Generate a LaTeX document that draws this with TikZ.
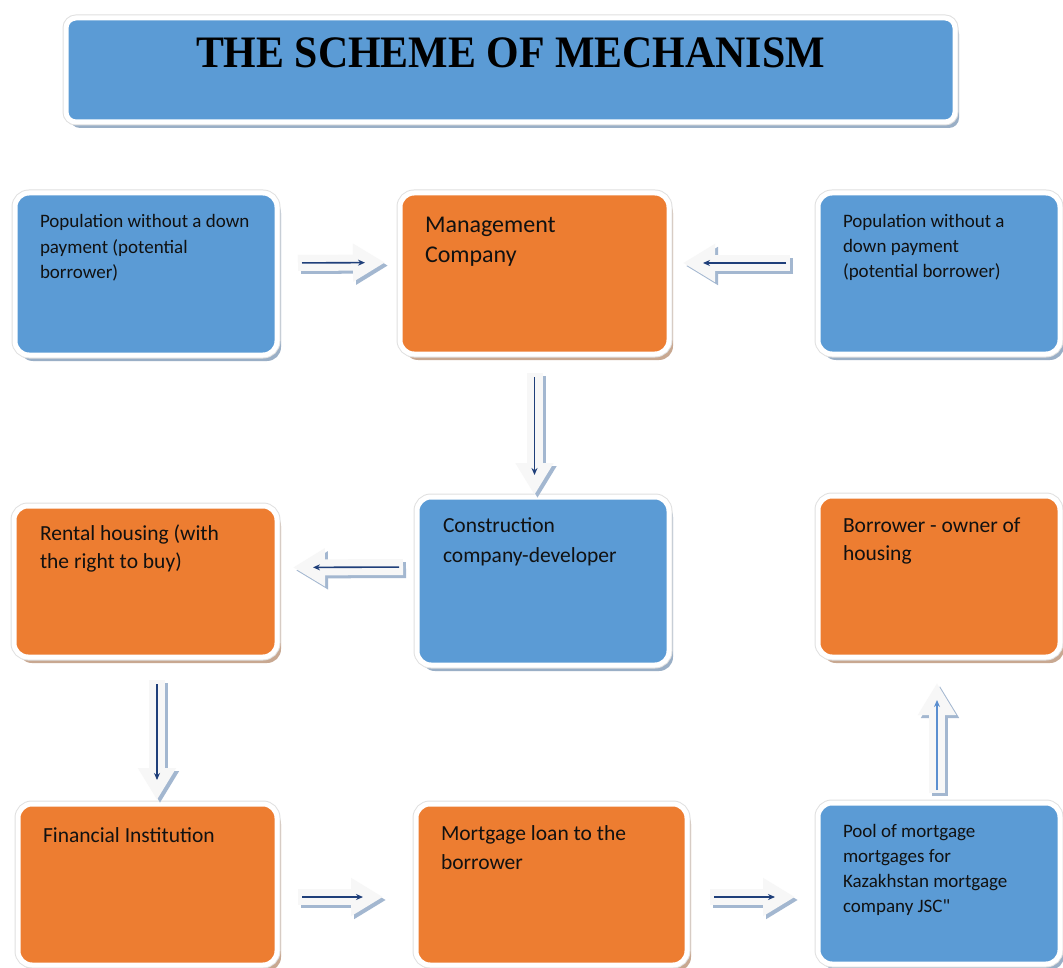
\documentclass[tikz,border=0pt]{standalone}
\usepackage{fontspec}
\usepackage{graphicx}
\setmainfont{Carlito}
\newfontfamily\plaincal{Carlito}
\newfontfamily\titlefont{Liberation Serif}
\usetikzlibrary{arrows.meta,shadows}
\definecolor{cblue}{HTML}{5B9BD5}
\definecolor{corange}{HTML}{ED7D31}
\definecolor{shblue}{HTML}{9AAFC6}
\definecolor{shorange}{HTML}{C8A891}
\definecolor{navy}{HTML}{1F3F7A}
\definecolor{lightnavy}{HTML}{5B8FD0}
\definecolor{arrshcol}{HTML}{A3B7D0}
\definecolor{txtcol}{HTML}{111111}
\newcommand\myarrow[7]{%
  \draw[arrshadow, shorten <=#4, shorten >=#5] #2 -- #3;
  \draw[arrbody, shorten <=#4, shorten >=#5] #2 -- #3;
  \draw[arrline, draw=#1, shorten <=#6, shorten >=#7] #2 -- #3;}
\begin{document}
\begin{tikzpicture}[x=1pt,y=-1pt,
  boxbase/.style={draw=white, line width=5pt, rounded corners=14pt, inner sep=0pt, outer sep=0pt, anchor=north west},
  bluebox/.style={boxbase, fill=cblue,
    drop shadow={shadow xshift=4pt, shadow yshift=-6pt, fill=shblue, opacity=1},
    preaction={draw=black!12, line width=7pt}},
  orangebox/.style={boxbase, fill=corange,
    drop shadow={shadow xshift=4pt, shadow yshift=-6pt, fill=shorange, opacity=1},
    preaction={draw=black!12, line width=7pt}},
  txt/.style={inner sep=0pt, outer sep=0pt, anchor=base west, text=txtcol},
  small/.style={txt, font=\fontsize{19}{25.5}\selectfont},
  mid/.style={txt, font=\fontsize{21.5}{28.5}\selectfont},
  big/.style={txt, font=\fontsize{24}{30}\selectfont},
  arrshadow/.style={draw=arrshcol, line width=16pt, -{Triangle[length=32pt,width=36pt]}, transform canvas={shift={(3pt,-3pt)}}},
  arrbody/.style={draw=gray!6, line width=16pt, -{Triangle[length=32pt,width=36pt]}},
  arrline/.style={line width=1.6pt, -{Stealth[length=7pt,width=6pt]}}
]
\useasboundingbox[fill=white] (0,0) rectangle (1063,968);

% title
\node[boxbase, rounded corners=10pt, fill=cblue,
  drop shadow={shadow xshift=4pt, shadow yshift=-6pt, fill=shblue, opacity=1},
  preaction={draw=black!12, line width=7pt},
  minimum width=889pt, minimum height=104pt] (title) at (66,18) {};
\node[anchor=base, inner sep=0pt] (ttext) at (510.5,68)
  {\titlefont\bfseries\fontsize{45}{45}\selectfont\scalebox{0.93}[1]{THE SCHEME OF MECHANISM}};

% boxes
\node[bluebox, minimum width=262pt, minimum height=162pt] (b1) at (15,193) {};
\node[orangebox, minimum width=269pt, minimum height=161pt] (b2) at (400,193) {};
\node[bluebox, minimum width=242pt, minimum height=161pt] (b3) at (818,193) {};
\node[orangebox, minimum width=263pt, minimum height=151pt] (b4) at (14,506) {};
\node[bluebox, minimum width=252pt, minimum height=168pt] (b5) at (417,497) {};
\node[orangebox, minimum width=242pt, minimum height=161pt] (b6) at (818,496) {};
\node[orangebox, minimum width=259pt, minimum height=161pt] (b7) at (18,804) {};
\node[orangebox, minimum width=271pt, minimum height=161pt] (b8) at (416,804) {};
\node[bluebox, minimum width=242pt, minimum height=161pt] (b9) at (818,803) {};

% texts
\node[small] (t1) at (40,228) {\parbox[t]{300pt}{Population without a down\\payment (potential\\borrower)}};
\node[big] (t2) at (425,233) {\parbox[t]{300pt}{Management\\Company}};
\node[small, font=\fontsize{19}{25}\selectfont] (t3) at (843,228) {\parbox[t]{300pt}{Population without a\\down payment\\(potential borrower)}};
\node[mid, font=\fontsize{21.5}{28}\selectfont] (t4) at (40,540) {\parbox[t]{300pt}{Rental housing (with\\the right to buy)}};
\node[mid, font=\fontsize{21.5}{30}\selectfont] (t5) at (443,532) {\parbox[t]{300pt}{Construction\\company-developer}};
\node[mid, font=\fontsize{21.5}{28}\selectfont] (t6) at (843,532) {\parbox[t]{300pt}{Borrower - owner of\\housing}};
\node[mid] (t7) at (43,842) {Financial Institution};
\node[mid, font=\fontsize{21.5}{29}\selectfont] (t8) at (441,840) {\parbox[t]{300pt}{Mortgage loan to the\\borrower}};
\node[small, font=\fontsize{19}{25}\selectfont] (t9) at (843,837) {\parbox[t]{300pt}{Pool of mortgage\\mortgages for\\Kazakhstan mortgage\\company JSC{\plaincal "}}};

% arrows
\myarrow{navy}{([yshift=11pt]b1.east)}{([yshift=11pt]b2.west)}{21pt}{15pt}{25pt}{35pt}
\myarrow{navy}{([yshift=10.5pt]b3.west)}{([yshift=10.5pt]b2.east)}{28pt}{14pt}{32pt}{34pt}
\myarrow{navy}{(b2.south)}{(b2.south |- b5.north)}{19pt}{2pt}{23pt}{22pt}
\myarrow{navy}{([yshift=14pt]b5.west)}{([yshift=14pt]b4.east)}{14pt}{16pt}{18pt}{36pt}
\myarrow{navy}{([xshift=11.5pt]b4.south)}{([xshift=9.5pt]b7.north)}{23pt}{4pt}{27pt}{24pt}
\myarrow{navy}{([yshift=-12.5pt]b7.east)}{([yshift=-12.5pt]b8.west)}{21pt}{33pt}{25pt}{53pt}
\myarrow{navy}{([yshift=-12.5pt]b8.east)}{([yshift=-13.5pt]b9.west)}{23pt}{23pt}{27pt}{43pt}
\myarrow{lightnavy}{([xshift=-2pt]b9.north)}{([xshift=-2pt]b6.south)}{10pt}{26pt}{13pt}{43pt}
\end{tikzpicture}
\end{document}
